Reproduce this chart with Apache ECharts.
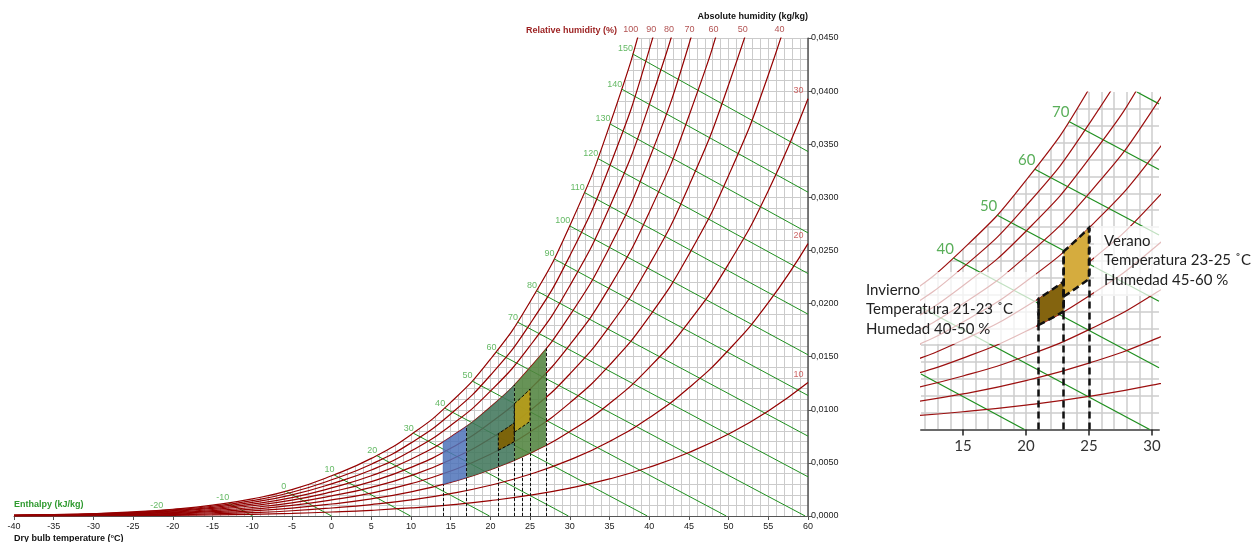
<!DOCTYPE html>
<html><head><meta charset="utf-8">
<script src="https://cdn.jsdelivr.net/npm/echarts@6/dist/echarts.min.js"></script>
<style>html,body{margin:0;padding:0;background:#fff}#c{width:1260px;height:542px}</style>
</head><body><div id="c"></div>
<script>
// ---- data ----
const tempNodes = [-40,-35,-30,-25,-20,-15,-10,-5,0,5,10,15,20,25,30,35,40,45,50,55,60];
const wsatNodes = [0.0000793,0.000138,0.000234,0.000391,0.000637,0.001020,0.001606,0.002486,0.003789,0.005422,0.007659,0.010692,0.014758,0.020170,0.027329,0.036756,0.049141,0.065411,0.086858,0.115321,0.153540];
const rhLevels = [100,90,80,70,60,50,40,30,20,10];
const enthalpyLevels = [-20,-10,0,10,20,30,40,50,60,70,80,90,100,110,120,130,140,150];
const zoneTemps = [[14,17],[17,23],[23,27],[21,23],[23,25]];
const zoneRH = [[30,70],[30,70],[30,70],[40,50],[45,60]];
const dropTemps = [14,17,21,23,24,25,27];
const dropTopRH = [30,70,40,70,30,45,70];
const insetBoxes = [3,4];
const insetDropTemps = [21,23,25];
const insetDropTopRH = [50,60,60];
const insetTicks = [15,20,25,30];
const insetRange = [11.67,30.56,0,0.020];

// ---- psychrometric helpers ----
const P = 101.325;
const psNodes = wsatNodes.map(w => w*P/(0.622+w));
function wFromPv(pv){ return 0.622*pv/(P-pv); }
function psAt(T){
  const x = Math.max(-40, Math.min(60, T));
  const i = Math.min(19, Math.floor((x+40)/5));
  const f = (x - tempNodes[i])/5;
  return Math.exp(Math.log(psNodes[i])*(1-f) + Math.log(psNodes[i+1])*f);
}
function wAt(T, rh){ return wFromPv(psAt(T)*rh/100); }
function bisect(fn, lo, hi){ for(let k=0;k<60;k++){ const m=(lo+hi)/2; if(fn(m)>0) hi=m; else lo=m; } return (lo+hi)/2; }
function hSat(h){ return bisect(T => 1.006*T + wAt(T,100)*(2501+1.86*T) - h, -40, 60); }
function hLine(h){
  const ts = hSat(h); const ws = wAt(ts,100);
  const t0 = h/1.006;
  const end = t0 <= 60 ? [t0, 0] : [60, (h-1.006*60)/(2501+1.86*60)];
  return [[ts, ws], end];
}
function clipSeg(a, b, xmin, xmax, ymin, ymax){
  let t0=0, t1=1; const dx=b[0]-a[0], dy=b[1]-a[1];
  const p=[-dx,dx,-dy,dy], q=[a[0]-xmin,xmax-a[0],a[1]-ymin,ymax-a[1]];
  for(let i=0;i<4;i++){
    if(p[i]===0){ if(q[i]<0) return null; }
    else { const r=q[i]/p[i]; if(p[i]<0){ if(r>t1) return null; if(r>t0) t0=r; } else { if(r<t0) return null; if(r<t1) t1=r; } }
  }
  return [[a[0]+t0*dx,a[1]+t0*dy],[a[0]+t1*dx,a[1]+t1*dy]];
}
function zonePoly(i){
  const [t1,t2]=zoneTemps[i], [r1,r2]=zoneRH[i]; const pts=[];
  for(let t=t1;t<=t2+1e-9;t+=0.5) pts.push([t,wAt(t,r1)]);
  for(let t=t2;t>=t1-1e-9;t-=0.5) pts.push([t,wAt(t,r2)]);
  return pts;
}

const FONT = '"Liberation Sans", Arial, sans-serif';
const RED = '#940000', GREEN = '#1f8f1f', LGREEN = '#3ea83e';
const series = [];

function rhLine(rh, xi, width, color){
  const s = {type:'line', xAxisIndex:xi, yAxisIndex:xi, silent:true, showSymbol:false, smooth:true, clip:true,
    data: tempNodes.map((t,i)=>[t, wFromPv(psNodes[i]*rh/100)]),
    lineStyle:{color:color, width:width}, z:3, animation:false};
  if (rh===100){ s.areaStyle={color:'#ffffff', opacity:1, origin:'end'}; s.z=1; }
  return s;
}

// ===== main chart =====
rhLevels.forEach(rh => series.push(rhLine(rh, 0, 1.2, RED)));
series.push({type:'lines', coordinateSystem:'cartesian2d', xAxisIndex:0, yAxisIndex:0, silent:true, z:3,
  lineStyle:{color:GREEN, width:1, opacity:1},
  data: enthalpyLevels.map(h => {const s=hLine(h); const c=clipSeg(s[0],s[1],-40,60,0,0.045); return {coords:c};}).filter(d=>d.coords)});
const mainZoneStyle = [
  {fill:'rgba(78,114,184,0.85)'},
  {fill:'rgba(66,120,92,0.88)'},
  {fill:'rgba(82,132,64,0.88)'},
  {fill:'rgba(128,96,0,0.9)', stroke:'#000', lineWidth:1, lineDash:[3,2]},
  {fill:'rgba(184,156,24,0.9)', stroke:'#000', lineWidth:1, lineDash:[3,2]}
];
series.push({type:'custom', coordinateSystem:'cartesian2d', xAxisIndex:0, yAxisIndex:0, silent:true, z:4,
  data: zoneTemps.map((t,i)=>[i]),
  renderItem:(params, api)=>{ const i=params.dataIndex;
    return {type:'polygon', shape:{points: zonePoly(i).map(p=>api.coord(p))}, style: mainZoneStyle[i]}; }});
series.push({type:'lines', coordinateSystem:'cartesian2d', xAxisIndex:0, yAxisIndex:0, silent:true, z:5,
  lineStyle:{color:'#111', width:1, type:[3,2], opacity:1},
  data: dropTemps.map((t,i)=>({coords:[[t,0],[t,wAt(t,dropTopRH[i])]]}))});
series.push({type:'scatter', xAxisIndex:0, yAxisIndex:0, silent:true, z:6, clip:false, symbolSize:1,
  itemStyle:{color:'rgba(0,0,0,0)'},
  data: enthalpyLevels.map(h => {const t=hSat(h); return [t, wAt(t,100), h];}),
  label:{show:true, position:[0,0], align:'right', verticalAlign:'bottom', offset:[1,0],
    formatter:p=>String(p.value[2]), color:LGREEN, fontSize:9, fontFamily:FONT}});
const rhTop = [], rhRight = [];
rhLevels.forEach(rh => {
  if (wAt(60,rh) > 0.045) rhTop.push({value:[bisect(T=>wAt(T,rh)-0.045,-40,60), 0.045, rh], label:{offset:[rh===100?-6:-1,-3]}});
  else rhRight.push([60, wAt(60,rh), rh]);
});
series.push({type:'scatter', xAxisIndex:0, yAxisIndex:0, silent:true, z:6, clip:false, symbolSize:1,
  itemStyle:{color:'rgba(0,0,0,0)'}, data: rhTop,
  label:{show:true, position:[0,0], align:'center', verticalAlign:'bottom',
    formatter:p=>String(p.value[2]), color:'#9b1f1f', fontSize:9, fontFamily:FONT}});
series.push({type:'scatter', xAxisIndex:0, yAxisIndex:0, silent:true, z:6, clip:false, symbolSize:1,
  itemStyle:{color:'rgba(0,0,0,0)'}, data: rhRight,
  label:{show:true, position:[0,0], align:'right', verticalAlign:'bottom', offset:[-4,-3],
    formatter:p=>String(p.value[2]), color:'#c04040', fontSize:9, fontFamily:FONT}});

// ===== inset chart =====
const [ixmin, ixmax, iymin, iymax] = insetRange;
const gridSegs = [];
for (let t=Math.ceil(ixmin); t<=Math.floor(ixmax); t++) gridSegs.push({coords:[[t,iymin],[t,iymax]]});
for (let k=1; k<20; k++) gridSegs.push({coords:[[ixmin,k*0.001],[ixmax,k*0.001]]});
series.push({type:'lines', coordinateSystem:'cartesian2d', xAxisIndex:1, yAxisIndex:1, silent:true, z:0,
  lineStyle:{color:'#cdcdcd', width:1.5, opacity:1}, data: gridSegs});
rhLevels.forEach(rh => series.push(rhLine(rh, 1, 1.2, '#9c1010')));
series.push({type:'lines', coordinateSystem:'cartesian2d', xAxisIndex:1, yAxisIndex:1, silent:true, z:3,
  lineStyle:{color:GREEN, width:1.2, opacity:1},
  data: enthalpyLevels.map(h => {const s=hLine(h); const c=clipSeg(s[0],s[1],ixmin,ixmax,iymin,iymax); return {coords:c};}).filter(d=>d.coords)});
const insetBoxStyle = {3:{fill:'#84640f', stroke:'#111', lineWidth:2.5, lineDash:[7,4]}, 4:{fill:'#d5ac3e', stroke:'#111', lineWidth:2.5, lineDash:[7,4]}};
series.push({type:'custom', coordinateSystem:'cartesian2d', xAxisIndex:1, yAxisIndex:1, silent:true, z:4,
  data: insetBoxes.map(i=>[i]),
  renderItem:(params, api)=>{ const i=insetBoxes[params.dataIndex];
    return {type:'polygon', shape:{points: zonePoly(i).map(p=>api.coord(p))}, style: insetBoxStyle[i]}; }});
series.push({type:'lines', coordinateSystem:'cartesian2d', xAxisIndex:1, yAxisIndex:1, silent:true, z:5,
  lineStyle:{color:'#111', width:2.5, type:[7,4], opacity:1},
  data: insetDropTemps.map((t,i)=>({coords:[[t,0],[t,wAt(t,insetDropTopRH[i])]]}))});
series.push({type:'scatter', xAxisIndex:1, yAxisIndex:1, silent:true, z:6, clip:false, symbolSize:1,
  itemStyle:{color:'rgba(0,0,0,0)'},
  data: enthalpyLevels.map(h => {const t=hSat(h); return [t, wAt(t,100), h];}).filter(d=>d[0]>=ixmin+0.5 && d[1]<=iymax),
  label:{show:true, position:[0,0], align:'right', verticalAlign:'bottom', offset:[1,-1],
    formatter:p=>String(p.value[2]), color:'#2f9a2f', fontSize:15, fontFamily:'Lato, "Open Sans", sans-serif'}});

const axisLbl = {color:'#222', fontSize:9, fontFamily:FONT};
const option = {
  animation:false,
  backgroundColor:'#fff',
  grid:[
    {left:14, right:452, top:38, bottom:26},
    {left:921, right:101, top:92, bottom:112.5}
  ],
  xAxis:[
    {type:'value', gridIndex:0, min:-40, max:60, interval:5,
      axisLine:{show:true, onZero:false, lineStyle:{color:'#555', width:1}},
      axisTick:{show:true, length:4, lineStyle:{color:'#555'}},
      axisLabel:Object.assign({margin:6}, axisLbl),
      splitLine:{show:true, lineStyle:{color:'#cbcbcb', width:1}},
      minorTick:{show:false, splitNumber:5},
      minorSplitLine:{show:true, lineStyle:{color:'#cbcbcb', width:1}}},
    {type:'value', gridIndex:1, min:ixmin, max:ixmax,
      axisLine:{show:true, onZero:false, lineStyle:{color:'#6a6a6a', width:2}},
      axisTick:{show:true, customValues:insetTicks, length:6, lineStyle:{color:'#222', width:1.5}},
      axisLabel:{customValues:insetTicks, color:'#333', fontSize:15, fontFamily:'Lato, "Open Sans", sans-serif', margin:9},
      splitLine:{show:false}}
  ],
  yAxis:[
    {type:'value', gridIndex:0, position:'right', min:0, max:0.045, interval:0.005,
      axisLine:{show:true, onZero:false, lineStyle:{color:'#555', width:1.5}},
      axisTick:{show:true, length:4, lineStyle:{color:'#555'}},
      axisLabel:Object.assign({margin:3, formatter:v=>v.toFixed(4).replace('.',',')}, axisLbl),
      splitLine:{show:true, lineStyle:{color:'#cbcbcb', width:1}},
      minorTick:{show:false, splitNumber:5},
      minorSplitLine:{show:true, lineStyle:{color:'#cbcbcb', width:1}}},
    {type:'value', gridIndex:1, min:iymin, max:iymax, show:false, axisLine:{onZero:false}, splitLine:{show:false}}
  ],
  graphic:[
    {type:'text', x:808, y:17, z:10, style:{text:'Absolute humidity (kg/kg)', fill:'#111', font:'bold 9px '+FONT, textAlign:'right', textVerticalAlign:'middle', align:'right', verticalAlign:'middle'}},
    {type:'text', x:617, y:31, z:10, style:{text:'Relative humidity (%)', fill:'#9b1f1f', font:'bold 9px '+FONT, textAlign:'right', textVerticalAlign:'middle', align:'right', verticalAlign:'middle'}},
    {type:'text', x:14, y:505, z:10, style:{text:'Enthalpy (kJ/kg)', fill:'#2f9a2f', font:'bold 9px '+FONT, textVerticalAlign:'middle', verticalAlign:'middle'}},
    {type:'text', x:14, y:534, z:10, style:{text:'Dry bulb temperature (°C)', fill:'#111', font:'bold 9px '+FONT, textVerticalAlign:'top', verticalAlign:'top'}},
    {type:'rect', z:10, shape:{x:1094, y:226, width:166, height:70}, style:{fill:'rgba(255,255,255,0.72)'}},
    {type:'rect', z:10, shape:{x:858, y:272, width:178, height:72}, style:{fill:'rgba(255,255,255,0.72)'}},
    {type:'text', x:1104, y:231, z:11, style:{text:'Verano\nTemperatura 23-25 ˚C\nHumedad 45-60 %', fill:'#222', font:'15px Lato, "Open Sans", sans-serif', lineHeight:19.5}},
    {type:'text', x:866, y:280, z:11, style:{text:'Invierno\nTemperatura 21-23 ˚C\nHumedad 40-50 %', fill:'#222', font:'15px Lato, "Open Sans", sans-serif', lineHeight:19.5}}
  ],
  series: series
};
const chart = echarts.init(document.getElementById('c'), null, {renderer:'canvas'});
chart.setOption(option);
</script></body></html>
